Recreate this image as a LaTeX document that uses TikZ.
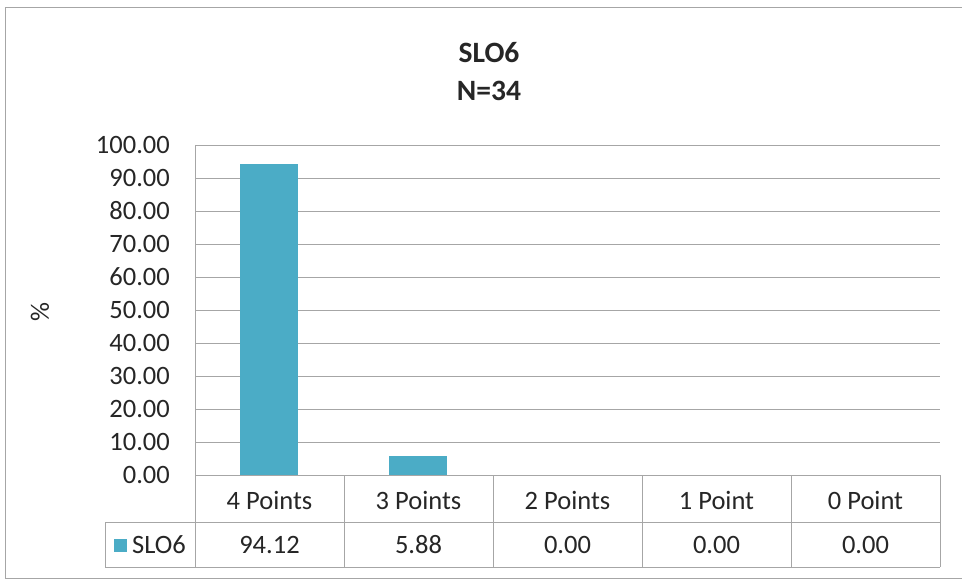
\documentclass[tikz,border=0pt]{standalone}
\usepackage{fontspec}
\setmainfont{Carlito}
\definecolor{barc}{HTML}{4BACC6}
\definecolor{gridc}{HTML}{A6A6A6}
\definecolor{txt}{HTML}{262626}
\begin{document}
\begin{tikzpicture}[x=1pt,y=-1pt,
  grid/.style={draw=gridc,line width=0.9pt},
  tick/.style={anchor=east,font=\fontsize{26.5}{28}\selectfont,text=txt,inner sep=0pt},
  cat/.style={font=\fontsize{26.5}{28}\selectfont,text=txt,inner sep=0pt},
  val/.style={font=\fontsize{26.5}{28}\selectfont,text=txt,inner sep=0pt},
  ttl/.style={font=\bfseries\fontsize{29.5}{32}\selectfont,text=txt,inner sep=0pt},
  bar/.style={fill=barc,draw=none}]
\useasboundingbox (0,0) rectangle (962,585);
\fill[white] (0,0) rectangle (962,585);
% chart border
\draw[gridc,line width=0.9pt] (962,7) -- (5,7) -- (5,578) -- (962,578);
% titles
\node[ttl] (title) at (489,53) {SLO6};
\node[ttl] (sub) at (489,91) {N=34};
% gridlines and tick labels
\foreach \v [count=\i from 0] in {0.00,10.00,20.00,30.00,40.00,50.00,60.00,70.00,80.00,90.00,100.00}{
  \draw[grid] (195,475-33*\i) -- (940,475-33*\i);
  \node[tick] (t\i) at (170,475-33*\i) {\v};
}
\draw[grid] (195,145) -- (195,567);
% axis title
\node[font=\fontsize{26.5}{28}\selectfont,text=txt,rotate=90] (ytitle) at (40,312) {\%};
% bars
\fill[bar] (240,475) rectangle (298,475-94.12*3.3);
\fill[bar] (389,475) rectangle (447,475-5.88*3.3);
% data table
\foreach \x in {344,493,642,791,940}{\draw[grid] (\x,475) -- (\x,567);}
\draw[grid] (105,522) -- (940,522);
\draw[grid] (105,567) -- (940,567);
\draw[grid] (105,522) -- (105,567);
\node[cat] (c1) at (269.5,500) {4 Points};
\node[cat] (c2) at (418.5,500) {3 Points};
\node[cat] (c3) at (567.5,500) {2 Points};
\node[cat] (c4) at (716.5,500) {1 Point};
\node[cat] (c5) at (865.5,500) {0 Point};
\fill[barc] (114,539) rectangle (127,552);
\node[val,anchor=west] (sname) at (132,545) {SLO6};
\node[val] (v1) at (269.5,545) {94.12};
\node[val] (v2) at (418.5,545) {5.88};
\node[val] (v3) at (567.5,545) {0.00};
\node[val] (v4) at (716.5,545) {0.00};
\node[val] (v5) at (865.5,545) {0.00};
\end{tikzpicture}
\end{document}
